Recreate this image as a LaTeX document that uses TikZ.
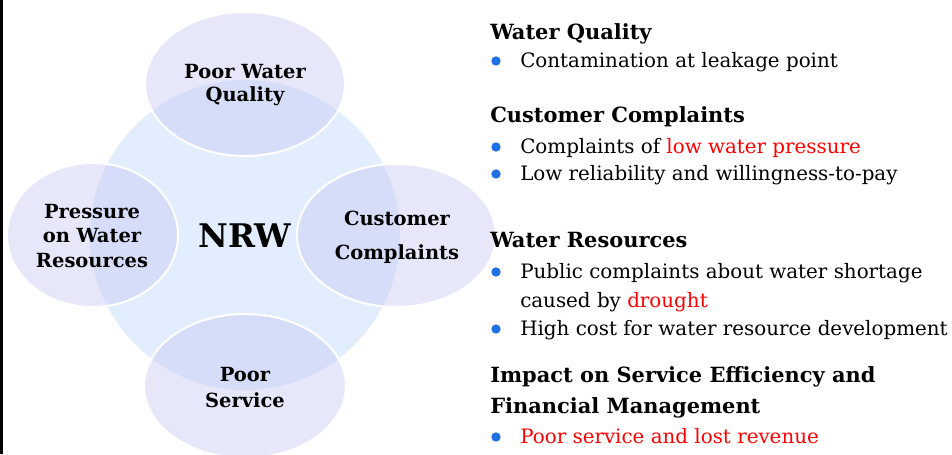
\documentclass[tikz,border=0pt]{standalone}
\usepackage{fontspec}
\setmainfont{DejaVu Serif}
\definecolor{circc}{RGB}{226,238,253}
\definecolor{bubc}{RGB}{197,197,245}
\definecolor{bulc}{RGB}{31,111,229}
\definecolor{redt}{RGB}{255,0,0}
\tikzset{
  bub/.style={fill=bubc, fill opacity=0.41, draw=white, draw opacity=1, line width=1.5pt},
  lab/.style={font=\bfseries\fontsize{14.6}{17}\selectfont, anchor=base, inner sep=0pt},
  head/.style={font=\bfseries\fontsize{15.7}{18}\selectfont, anchor=base west, inner sep=0pt},
  item/.style={font=\fontsize{14.9}{18}\selectfont, anchor=base west, inner sep=0pt},
  dot/.style={circle, fill=bulc, inner sep=0pt, minimum size=7pt},
}
\begin{document}
\begin{tikzpicture}[x=0.75pt,y=-0.75pt]
\useasboundingbox (0,0) rectangle (952,454);
\clip (0,0) rectangle (952,454);
\fill[white] (0,0) rectangle (952,454);
\fill[black] (0,0) rectangle (2.5,454);
% central circle
\fill[circc] (245,235) circle [radius=155];
% bubbles
\draw[bub] (245,84) ellipse [x radius=100, y radius=72];
\draw[bub] (92.5,235) ellipse [x radius=85.5, y radius=72];
\draw[bub] (396.5,235.5) ellipse [x radius=99.5, y radius=71.5];
\draw[bub] (245,386) ellipse [x radius=101, y radius=72];
% labels
\node[font=\bfseries\fontsize{24.4}{28}\selectfont, anchor=base, inner sep=0pt] (nrw) at (245,247) {NRW};
\node[lab] (q1) at (245,78) {Poor Water};
\node[lab] (q2) at (245,101.7) {Quality};
\node[lab] (p1) at (92,218) {Pressure};
\node[lab] (p2) at (92,242.5) {on Water};
\node[lab] (p3) at (92,267) {Resources};
\node[lab] (c1) at (397,225) {Customer};
\node[lab] (c2) at (397,259) {Complaints};
\node[lab] (s1) at (245,381.7) {Poor};
\node[lab] (s2) at (245,407) {Service};
% right text
\node[head] (h1) at (490,39) {Water Quality};
\node[dot] (d1) at (496,61) {};
\node[item] (t1) at (520,67) {Contamination at leakage point};
\node[head] (h2) at (490,122) {Customer Complaints};
\node[dot] (d2) at (496,147) {};
\node[item] (t2) at (520,153) {Complaints of \textcolor{redt}{low water pressure}};
\node[dot] (d3) at (496,174) {};
\node[item] (t3) at (520,180) {Low reliability and willingness-to-pay};
\node[head] (h3) at (490,247) {Water Resources};
\node[dot] (d4) at (496,272) {};
\node[item] (t4) at (520,278) {Public complaints about water shortage};
\node[item] (t5) at (520,307) {caused by \textcolor{redt}{drought}};
\node[dot] (d5) at (496,329) {};
\node[item] (t6) at (520,335) {High cost for water resource development};
\node[head] (h4) at (490,382) {Impact on Service Efficiency and};
\node[head] (h5) at (490,413) {Financial Management};
\node[dot] (d6) at (496,437) {};
\node[item, text=redt] (t7) at (520,443) {Poor service and lost revenue};
\end{tikzpicture}
\end{document}
